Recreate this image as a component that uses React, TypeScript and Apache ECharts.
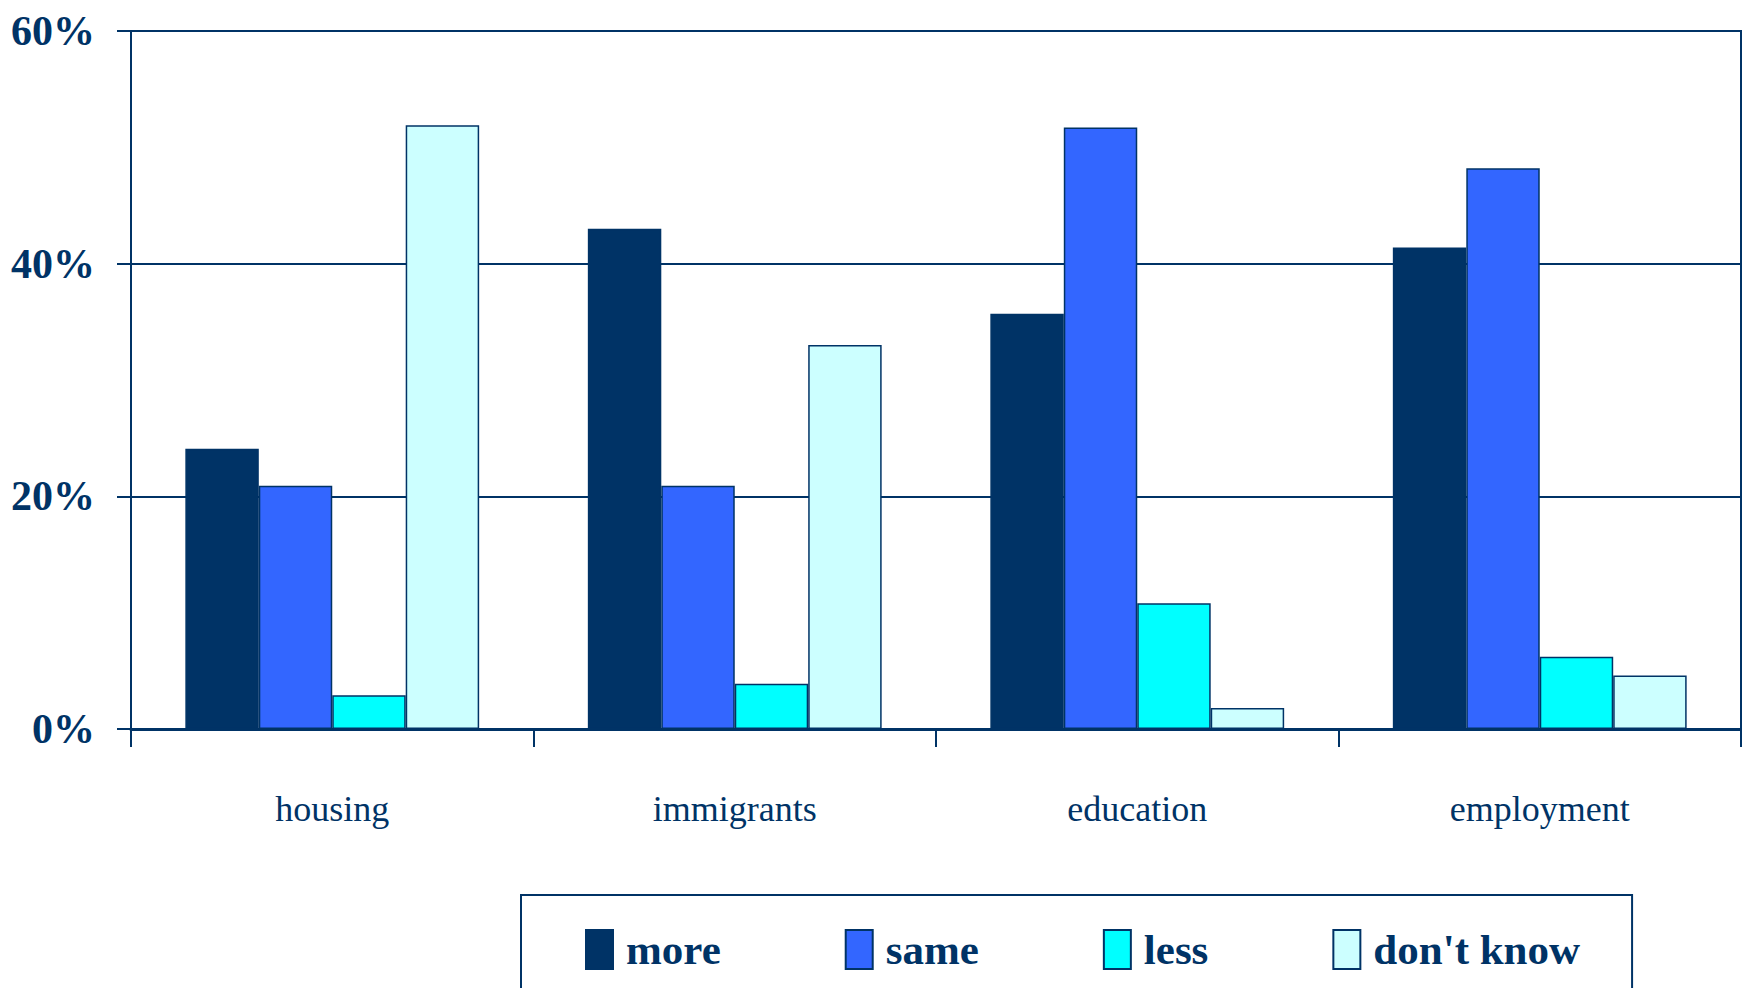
import React, { useEffect, useRef } from "react";
import * as echarts from "echarts";

const categories = ["housing", "immigrants", "education", "employment"];
const seriesNames = ["more", "same", "less", "don't know"];
const moreValues = [24.1, 43.0, 35.7, 41.4];
const sameValues = [20.9, 20.9, 51.7, 48.2];
const lessValues = [2.9, 3.9, 10.8, 6.2];
const dontKnowValues = [51.9, 33.0, 1.8, 4.6];
const seriesColors = ["#003366", "#3366FF", "#00FFFF", "#CCFFFF"];
const yTicks = { min: 0, max: 60, interval: 20 };

const NAVY = "#003366";
const SERIF = "'Liberation Serif', 'Times New Roman', serif";

export default function App() {
  const ref = useRef<HTMLDivElement>(null);
  useEffect(() => {
    if (!ref.current) return;
    const chart = echarts.init(ref.current, undefined, { renderer: "svg" });
    const values = [moreValues, sameValues, lessValues, dontKnowValues];
    chart.setOption({
      animation: false,
      backgroundColor: "#ffffff",
      grid: {
        left: 131,
        right: 1,
        top: 31,
        bottom: 259,
        show: true,
        borderColor: NAVY,
        borderWidth: 2,
        containLabel: false,
      },
      legend: {
        data: seriesNames,
        left: 521,
        top: 895,
        orient: "horizontal",
        padding: [33, 52, 40, 64],
        itemGap: 124,
        itemWidth: 27,
        itemHeight: 39,
        borderColor: NAVY,
        borderWidth: 2,
        icon: "rect",
        textStyle: {
          fontFamily: SERIF,
          fontWeight: "bold",
          fontSize: 43,
          color: NAVY,
          padding: [0, 0, 0, 8],
        },
      },
      xAxis: {
        type: "category",
        data: categories,
        axisLine: { show: true, lineStyle: { color: NAVY, width: 3 } },
        axisTick: { show: true, length: 18, lineStyle: { color: NAVY, width: 2 } },
        axisLabel: {
          margin: 62,
          fontFamily: SERIF,
          fontSize: 36,
          color: NAVY,
        },
        splitLine: { show: false },
      },
      yAxis: {
        type: "value",
        min: yTicks.min,
        max: yTicks.max,
        interval: yTicks.interval,
        axisLine: { show: true, lineStyle: { color: NAVY, width: 2 } },
        axisTick: { show: true, length: 14, lineStyle: { color: NAVY, width: 2 } },
        axisLabel: {
          formatter: "{value}%",
          margin: 36,
          fontFamily: SERIF,
          fontWeight: "bold",
          fontSize: 42,
          color: NAVY,
        },
        splitLine: { show: true, lineStyle: { color: NAVY, width: 2 } },
      },
      series: seriesNames.map((name, i) => ({
        name,
        type: "bar",
        data: values[i],
        barGap: "0%",
        barCategoryGap: "27%",
        itemStyle: {
          color: seriesColors[i],
          borderColor: NAVY,
          borderWidth: 1.5,
        },
      })),
    });
    return () => chart.dispose();
  }, []);
  return (
    <div
      ref={ref}
      style={{ position: "absolute", left: 0, top: 0, width: 1742, height: 988 }}
    />
  );
}
